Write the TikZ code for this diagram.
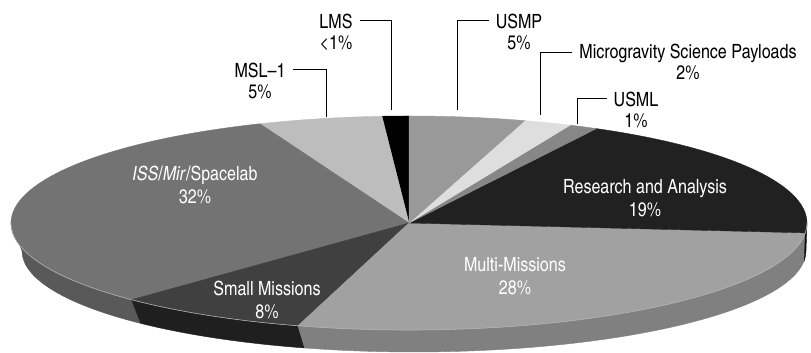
\documentclass[tikz,border=0pt]{standalone}
\usepackage{fontspec}
\setmainfont{texgyreheroscn}[Extension=.otf,UprightFont=*-regular,ItalicFont=*-italic,BoldFont=*-bold]
\usetikzlibrary{calc,positioning}

\definecolor{issgray}{gray}{0.45}
\definecolor{issside}{gray}{0.35}
\definecolor{smallgray}{gray}{0.25}
\definecolor{smallside}{gray}{0.12}
\definecolor{multigray}{gray}{0.63}
\definecolor{multiside}{gray}{0.5}
\definecolor{resgray}{gray}{0.13}
\definecolor{resside}{gray}{0.06}
\definecolor{usmlgray}{gray}{0.53}
\definecolor{microgray}{gray}{0.87}
\definecolor{usmpgray}{gray}{0.6}
\definecolor{mslgray}{gray}{0.74}

\begin{document}
\begin{tikzpicture}[x=0.5pt,y=0.5pt,font=\fontsize{9.8}{11.5}\selectfont,
  inlabel/.style={text=white,align=center},
  leader/.style={draw=black,line width=0.5pt}]
\useasboundingbox (0,0) rectangle (811,353);
\coordinate (top-c) at (409,130);
\coordinate (bot-c) at (414,102);
% rim of the pie
\foreach \A/\B/\Col in {180/225.8/issside,225.8/253.8/smallside,253.8/354.7/multiside,354.7/360/resside}
  \filldraw[fill=\Col,draw=\Col,line width=0.2pt] ($(top-c)+(\A:398 and 107)$)
    arc[start angle=\A,end angle=\B,x radius=398,y radius=107]
    -- ($(bot-c)+(\B:392 and 101)$)
    arc[start angle=\B,end angle=\A,x radius=392,y radius=101] -- cycle;
% top of the pie
\foreach \A/\B/\Col in {90/93.9/black,93.9/112/mslgray,112/225.8/issgray,225.8/253.8/smallgray,
  253.8/354.7/multigray,354.7/421.9/resgray,61.9/66.1/usmlgray,66.1/73.1/microgray,73.1/90/usmpgray}
  \filldraw[fill=\Col,draw=\Col,line width=0.2pt] (top-c) -- ($(top-c)+(\A:398 and 107)$)
    arc[start angle=\A,end angle=\B,x radius=398,y radius=107] -- cycle;
\draw[white!70!black,line width=0.3pt] ($(top-c)+(180:398 and 107)$)
  arc[start angle=180,end angle=360,x radius=398,y radius=107];

% labels on the slices
\node[inlabel] (iss) at (195,168) {\textit{ISS}/\textit{Mir}/Spacelab\\32\%};
\node[inlabel] (small) at (267,53) {Small Missions\\8\%};
\node[inlabel] (multi) at (515,77) {Multi-Missions\\28\%};
\node[inlabel] (research) at (645,155) {Research and Analysis\\19\%};

% labels outside, with leaders
\node (lms) at (336,332) {LMS};
\node[anchor=base] (lms-p) at ([yshift=-10.5pt]lms.base) {<1\%};
\coordinate (lms-end) at (391.7,243);
\draw[leader] (lms.east) -| (lms-end);

\node (msl) at (260,283) {MSL--1};
\node[anchor=base] (msl-p) at ([yshift=-10.5pt]msl.base) {5\%};
\coordinate (msl-end) at (326,236.3);
\draw[leader] (msl.east) -| (msl-end);

\node (usmp) at (519,332) {USMP};
\node[anchor=base] (usmp-p) at ([yshift=-10.5pt]usmp.base) {5\%};
\coordinate (usmp-end) at (457.5,243);
\draw[leader] (usmp.west) -| (usmp-end);

\node (micro) at (688,300) {Microgravity Science Payloads};
\node[anchor=base] (micro-p) at ([yshift=-10.5pt]micro.base) {2\%};
\coordinate (micro-end) at (540.7,238);
\draw[leader] (micro.west) -| (micro-end);

\node (usml) at (636,254) {USML};
\node[anchor=base] (usml-p) at ([yshift=-10.5pt]usml.base) {1\%};
\coordinate (usml-end) at (577,228.5);
\draw[leader] (usml.west) -| (usml-end);
\end{tikzpicture}
\end{document}
